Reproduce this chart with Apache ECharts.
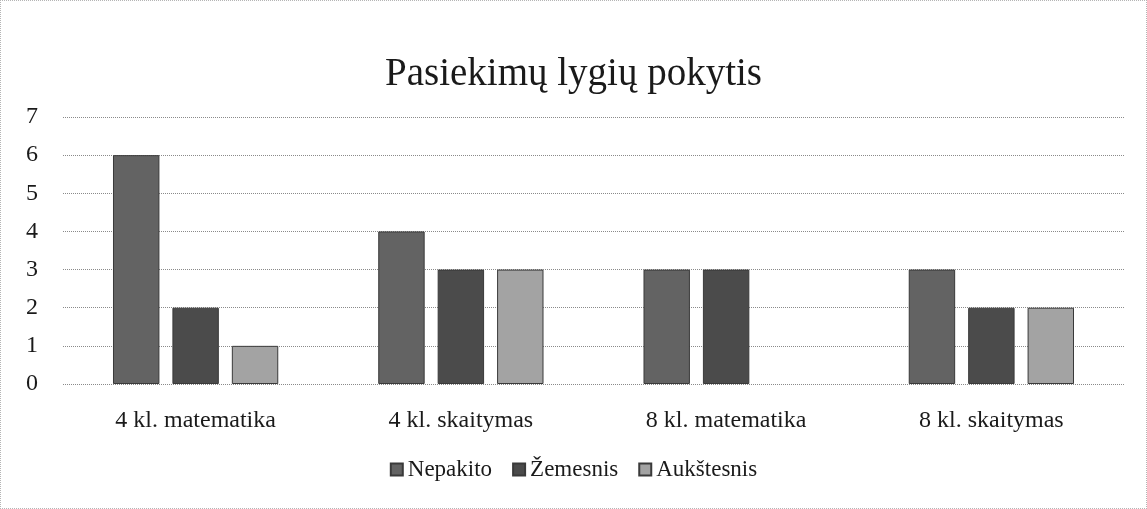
<!DOCTYPE html>
<html>
<head>
<meta charset="utf-8">
<script src="https://cdn.jsdelivr.net/npm/echarts@6/dist/echarts.min.js"></script>
<style>
  html, body { margin: 0; padding: 0; background: #fff; }
  #chart { width: 1147px; height: 509px; box-sizing: border-box; border: 1px dotted #b5b5b5; }
</style>
</head>
<body>
<div id="chart"></div>
<script>
const categories = ["4 kl. matematika", "4 kl. skaitymas", "8 kl. matematika", "8 kl. skaitymas"]
const nepakito = [6, 4, 3, 3]
const zemesnis = [2, 3, 3, 2]
// 8 kl. matematika has no "Aukštesnis" bar
const aukstesnis = [1, 3, null, 2]
const yTicks = [0, 1, 2, 3, 4, 5, 6, 7]

const font = "'Liberation Serif', 'DejaVu Serif', serif"
const chart = echarts.init(document.getElementById("chart"))

const barStyle = (color) => ({
  color: color,
  borderColor: "#3a3a3a",
  borderWidth: 1
})

chart.setOption({
  animation: false,
  textStyle: { fontFamily: font },
  title: {
    text: "Pasiekimų lygių pokytis",
    left: "center",
    top: 49,
    textStyle: { fontFamily: font, fontSize: 39, fontWeight: "normal", color: "#1a1a1a" }
  },
  legend: {
    bottom: 22,
    left: "center",
    itemWidth: 12,
    itemHeight: 12,
    itemGap: 20,
    icon: "rect",
    textStyle: { fontFamily: font, fontSize: 23, color: "#1a1a1a" },
    data: ["Nepakito", "Žemesnis", "Aukštesnis"]
  },
  grid: { left: 62, right: 22, top: 116, bottom: 124 },
  xAxis: {
    type: "category",
    data: categories,
    axisLine: { show: false },
    axisTick: { show: false },
    axisLabel: { fontFamily: font, fontSize: 24, color: "#1a1a1a", margin: 25 }
  },
  yAxis: {
    type: "value",
    min: yTicks[0],
    max: yTicks[yTicks.length - 1],
    interval: 1,
    axisLine: { show: false },
    axisTick: { show: false },
    axisLabel: { fontFamily: font, fontSize: 24, color: "#1a1a1a", margin: 37, align: "left",
      formatter: (v) => yTicks.includes(v) ? String(v) : "" },
    splitLine: { lineStyle: { type: "dotted", color: "#8a8a8a", width: 1 } }
  },
  series: [
    { name: "Nepakito", type: "bar", data: nepakito, barWidth: "17.5%", barGap: "28%", barCategoryGap: "37%",
      itemStyle: barStyle("#636363") },
    { name: "Žemesnis", type: "bar", data: zemesnis, barWidth: "17.5%", barGap: "28%",
      itemStyle: barStyle("#4b4b4b") },
    { name: "Aukštesnis", type: "bar", data: aukstesnis, barWidth: "17.5%", barGap: "28%",
      itemStyle: barStyle("#a3a3a3") }
  ]
})
</script>
</body>
</html>
